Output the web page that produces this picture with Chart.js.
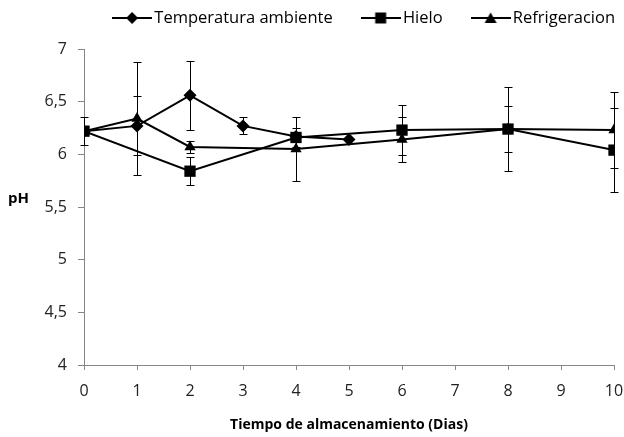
<!DOCTYPE html>
<html>
<head>
<meta charset="utf-8">
<script src="https://cdn.jsdelivr.net/npm/chart.js@4"></script>
<style>
  html, body { margin: 0; padding: 0; background: #fff; }
  #wrap { width: 624px; height: 437px; }
</style>
</head>
<body>
<div id="wrap"><canvas id="chart" width="624" height="437"></canvas></div>
<script>
// dias de almacenamiento y pH medido
const diasTemp = [0, 1, 2, 3, 4, 5];
const phTemp   = [6.22, 6.27, 6.56, 6.27, 6.17, 6.14];
const errTemp  = [0, 0.28, 0.33, 0.08, 0, 0];

const diasHielo = [0, 2, 4, 6, 8, 10];
const phHielo   = [6.22, 5.84, 6.16, 6.23, 6.24, 6.04];
const errHielo  = [0.13, 0.13, 0.09, 0.24, 0.22, 0.40];

const diasRefri = [0, 1, 2, 4, 6, 8, 10];
const phRefri   = [6.22, 6.34, 6.07, 6.05, 6.14, 6.24, 6.23];
const errRefri  = [0, 0.54, 0.06, 0.30, 0.21, 0.40, 0.36];

const xTicks = [0, 1, 2, 3, 4, 5, 6, 7, 8, 9, 10];
const yTicks = [4, 4.5, 5, 5.5, 6, 6.5, 7];

const toPoints = (xs, ys) => xs.map((x, i) => ({ x, y: ys[i] }));

// small legend icon: line with marker in the middle
function legendIcon(style) {
    const c = document.createElement('canvas');
    c.width = 40; c.height = 14;
    const ctx = c.getContext('2d');
    ctx.strokeStyle = '#000'; ctx.lineWidth = 2;
    ctx.beginPath(); ctx.moveTo(0, 7); ctx.lineTo(40, 7); ctx.stroke();
    ctx.fillStyle = '#000';
    ctx.beginPath();
    if (style === 'rectRot') {
        ctx.moveTo(20, 1); ctx.lineTo(26, 7); ctx.lineTo(20, 13); ctx.lineTo(14, 7);
    } else if (style === 'rect') {
        ctx.rect(14.5, 1.5, 11, 11);
    } else {
        ctx.moveTo(20, 1.5); ctx.lineTo(26, 12); ctx.lineTo(14, 12);
    }
    ctx.closePath(); ctx.fill();
    return c;
}

const datasets = [
    { label: 'Temperatura ambiente', data: toPoints(diasTemp, phTemp), errors: errTemp, pointStyle: 'rectRot', pointRadius: 6.5, order: 1 },
    { label: 'Hielo', data: toPoints(diasHielo, phHielo), errors: errHielo, pointStyle: 'rect', pointRadius: 8, order: 0 },
    { label: 'Refrigeracion', data: toPoints(diasRefri, phRefri), errors: errRefri, pointStyle: 'triangle', pointRadius: 6.5, order: 2 }
].map(d => ({
    ...d, showLine: true, borderColor: '#000', backgroundColor: '#000', borderWidth: 2,
    pointBackgroundColor: '#000', pointBorderColor: '#000', pointBorderWidth: 0, tension: 0
}));

const errorBars = {
    id: 'errorBars',
    afterDatasetsDraw(chart) {
        const { ctx, scales: { x, y } } = chart;
        ctx.save();
        ctx.strokeStyle = '#000';
        ctx.lineWidth = 1;
        chart.data.datasets.forEach(ds => {
            ds.data.forEach((p, i) => {
                const e = ds.errors[i];
                if (!e) return;
                const px = Math.round(x.getPixelForValue(p.x)) + 0.5;
                const top = Math.round(y.getPixelForValue(p.y + e)) + 0.5;
                const bot = Math.round(y.getPixelForValue(p.y - e)) + 0.5;
                ctx.beginPath();
                ctx.moveTo(px, top); ctx.lineTo(px, bot);
                ctx.moveTo(px - 4, top); ctx.lineTo(px + 4, top);
                ctx.moveTo(px - 4, bot); ctx.lineTo(px + 4, bot);
                ctx.stroke();
            });
        });
        ctx.restore();
    }
};

// "pH" written horizontally left of the axis
const yTitle = {
    id: 'yTitle',
    afterDraw(chart) {
        const { ctx } = chart;
        ctx.save();
        ctx.font = "bold 15px 'Open Sans', sans-serif";
        ctx.fillStyle = '#000';
        ctx.textAlign = 'left';
        ctx.textBaseline = 'middle';
        ctx.fillText('pH', 8, 199);
        ctx.restore();
    }
};

const LEG_PAD = 34;
const LEG_FONT = 16.5;

// fixed legend band height, then nudge it up/right so it sits like the original
const legendPlace = {
    id: 'legendPlace',
    beforeInit(chart) {
        const fit = chart.legend.fit;
        chart.legend.fit = function () { fit.call(this); this.height = 49; };
    },
    afterLayout(chart) {
        const lg = chart.legend;
        lg.top = 18 - LEG_PAD - LEG_FONT / 2;
        lg.left += 25; lg.right += 25;
    }
};

const axisColor = '#868686';
const tickFont = { family: "'Open Sans', sans-serif", size: 16 };

new Chart(document.getElementById('chart'), {
    type: 'scatter',
    data: { datasets },
    plugins: [errorBars, yTitle, legendPlace],
    options: {
        responsive: false,
        animation: false,
        layout: { padding: { top: 0, right: 0, left: 0, bottom: 0 } },
        plugins: {
            tooltip: { enabled: false },
            legend: {
                align: 'end',
                labels: {
                    usePointStyle: true,
                    pointStyleWidth: 28,
                    color: '#000',
                    padding: LEG_PAD,
                    font: { family: "'Open Sans', sans-serif", size: LEG_FONT },
                    generateLabels(chart) {
                        const items = Chart.defaults.plugins.legend.labels.generateLabels(chart);
                        return items
                            .sort((a, b) => a.datasetIndex - b.datasetIndex)
                            .map(it => ({ ...it, pointStyle: legendIcon(chart.data.datasets[it.datasetIndex].pointStyle) }));
                    }
                }
            }
        },
        scales: {
            x: {
                type: 'linear', min: 0, max: 10,
                afterBuildTicks: s => { s.ticks = xTicks.map(v => ({ value: v })); },
                afterFit: s => { s.height = 72; s.paddingRight = 10; },
                border: { color: axisColor, width: 1 },
                grid: { display: true, drawOnChartArea: false, color: axisColor, tickLength: 5 },
                ticks: { color: '#222', font: tickFont, padding: 12, maxRotation: 0 },
                title: {
                    display: true, text: 'Tiempo de almacenamiento (Dias)', color: '#000',
                    font: { family: "'Open Sans', sans-serif", size: 14, weight: 'bold' }, padding: { top: 8 }
                }
            },
            y: {
                min: 4, max: 7,
                afterBuildTicks: s => { s.ticks = yTicks.map(v => ({ value: v })); },
                afterFit: s => { s.width = 84; },
                border: { color: axisColor, width: 1 },
                grid: { display: true, drawOnChartArea: false, color: axisColor, tickLength: 6 },
                ticks: { color: '#222', font: tickFont, padding: 11, callback: v => String(v).replace('.', ',') }
            }
        }
    }
});
</script>
</body>
</html>
